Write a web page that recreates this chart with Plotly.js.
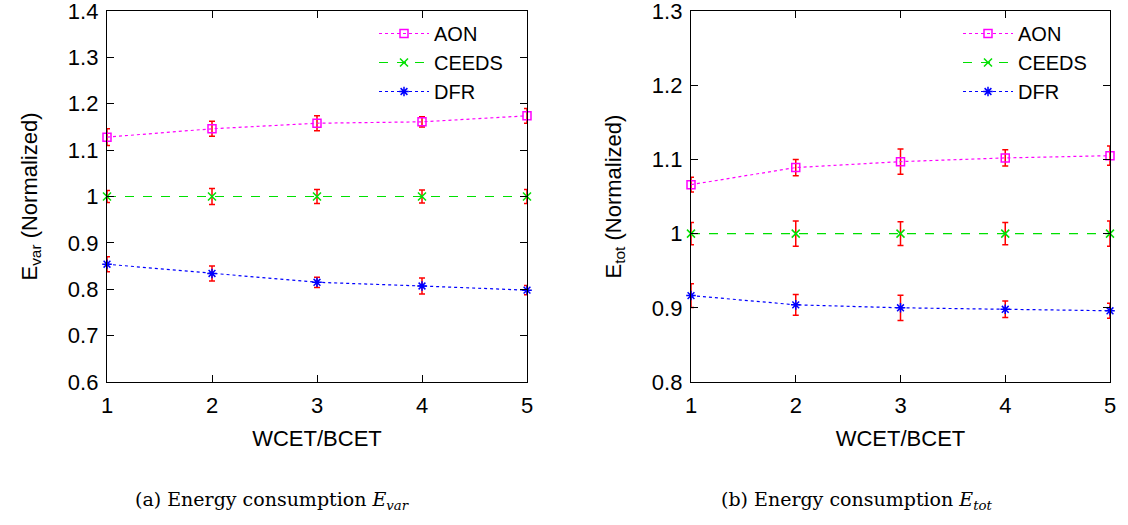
<!DOCTYPE html>
<html>
<head>
<meta charset="utf-8">
<script src="https://cdn.plot.ly/plotly-3.0.1.min.js"></script>
<style>html,body{margin:0;padding:0;background:#fff;}#chart{width:1128px;height:525px;}</style>
</head>
<body>
<div id="chart"></div>
<script>
// Shared x categories
const ratios = [1, 2, 3, 4, 5];
const seriesNames = ['AON', 'CEEDS', 'DFR'];

// (a) E_var (normalized)
const evarAON = [1.128, 1.146, 1.158, 1.161, 1.174];
const evarAONErr = [0.018, 0.016, 0.016, 0.011, 0.016];
const evarCEEDS = [1.0, 1.0, 1.0, 1.0, 1.0];
const evarCEEDSErr = [0.013, 0.017, 0.015, 0.014, 0.015];
const evarDFR = [0.854, 0.834, 0.815, 0.807, 0.798];
const evarDFRErr = [0.016, 0.016, 0.011, 0.017, 0.010];

// (b) E_tot (normalized)
const etotAON = [1.066, 1.089, 1.097, 1.102, 1.105];
const etotAONErr = [0.010, 0.011, 0.017, 0.011, 0.013];
const etotCEEDS = [1.0, 1.0, 1.0, 1.0, 1.0];
const etotCEEDSErr = [0.015, 0.017, 0.016, 0.015, 0.017];
const etotDFR = [0.9165, 0.904, 0.900, 0.898, 0.896];
const etotDFRErr = [0.016, 0.014, 0.017, 0.011, 0.010];

const styles = [
  {color: '#ff00ff', dash: 'dot', symbol: 'square-open', size: 8},
  {color: '#00e000', dash: 'dash', symbol: 'x-thin-open', size: 8},
  {color: '#0000ff', dash: 'dot', symbol: 'asterisk-open', size: 8}
];

function mk(name, y, err, st, xa, ya, leg) {
  return {
    x: ratios, y: y, name: name, type: 'scatter', mode: 'lines+markers',
    xaxis: xa, yaxis: ya, legend: leg, cliponaxis: false,
    line: {color: st.color, dash: st.dash, width: 1.2},
    marker: {symbol: st.symbol, size: st.size, color: st.color, line: {color: st.color, width: 1.5}},
    error_y: {type: 'data', array: err, visible: true, color: '#ff0000', thickness: 1.5, width: 3}
  };
}

const data = [
  mk(seriesNames[0], evarAON, evarAONErr, styles[0], 'x', 'y', 'legend'),
  mk(seriesNames[1], evarCEEDS, evarCEEDSErr, styles[1], 'x', 'y', 'legend'),
  mk(seriesNames[2], evarDFR, evarDFRErr, styles[2], 'x', 'y', 'legend'),
  mk(seriesNames[0], etotAON, etotAONErr, styles[0], 'x2', 'y2', 'legend2'),
  mk(seriesNames[1], etotCEEDS, etotCEEDSErr, styles[1], 'x2', 'y2', 'legend2'),
  mk(seriesNames[2], etotDFR, etotDFRErr, styles[2], 'x2', 'y2', 'legend2')
];

const font = {family: 'Liberation Sans, Arial, sans-serif', size: 22, color: '#000'};
const axBase = {
  showline: true, linecolor: '#000', linewidth: 1.2, mirror: 'ticks',
  ticks: 'inside', ticklen: 7, tickcolor: '#000', tickwidth: 1,
  showgrid: false, zeroline: false, tickfont: font, ticklabeloverflow: 'allow'
};
const xBase = Object.assign({}, axBase, {range: [1, 5], dtick: 1, tick0: 1, ticklabelstandoff: 3,
  title: {text: 'WCET/BCET', font: font, standoff: 14}});

const yTop = 1 - 11 / 525, yBot = 1 - 382 / 525;
const capFont = {family: 'DejaVu Serif, serif', size: 19, color: '#000'};
const legFont = {family: 'Liberation Sans, Arial, sans-serif', size: 20, color: '#000'};
const legBase = {yanchor: 'top', xanchor: 'right', y: 1 - 14/525, bgcolor: 'rgba(0,0,0,0)',
  font: legFont, tracegroupgap: 0, itemwidth: 50};

const layout = {
  width: 1128, height: 525,
  margin: {l: 0, r: 0, t: 0, b: 0},
  paper_bgcolor: '#fff', plot_bgcolor: '#fff',
  font: font,
  showlegend: true,
  xaxis: Object.assign({}, xBase, {domain: [107/1128, 527/1128], anchor: 'y'}),
  yaxis: Object.assign({}, axBase, {domain: [yBot, yTop], range: [0.6, 1.4], dtick: 0.1, tick0: 0.6,
    anchor: 'x', ticklabelstandoff: 3,
    title: {text: 'E<sub>var</sub> (Normalized)', font: font, standoff: 24}}),
  xaxis2: Object.assign({}, xBase, {domain: [691/1128, 1110/1128], anchor: 'y2'}),
  yaxis2: Object.assign({}, axBase, {domain: [yBot, yTop], range: [0.8, 1.3], dtick: 0.1, tick0: 0.8,
    anchor: 'x2', ticklabelstandoff: 3,
    title: {text: 'E<sub>tot</sub> (Normalized)', font: font, standoff: 24}}),
  legend: Object.assign({}, legBase, {x: 508/1128}),
  legend2: Object.assign({}, legBase, {x: 1092/1128}),
  annotations: [
    {xref: 'paper', yref: 'paper', x: 272/1128, y: 1 - 500/525, xanchor: 'center', yanchor: 'middle', showarrow: false,
     text: '(a) Energy consumption <i>E<sub>var</sub></i>', font: capFont},
    {xref: 'paper', yref: 'paper', x: 857/1128, y: 1 - 500/525, xanchor: 'center', yanchor: 'middle', showarrow: false,
     text: '(b) Energy consumption <i>E<sub>tot</sub></i>', font: capFont}
  ]
};

Plotly.newPlot('chart', data, layout, {displayModeBar: false, staticPlot: true});
</script>
</body>
</html>
